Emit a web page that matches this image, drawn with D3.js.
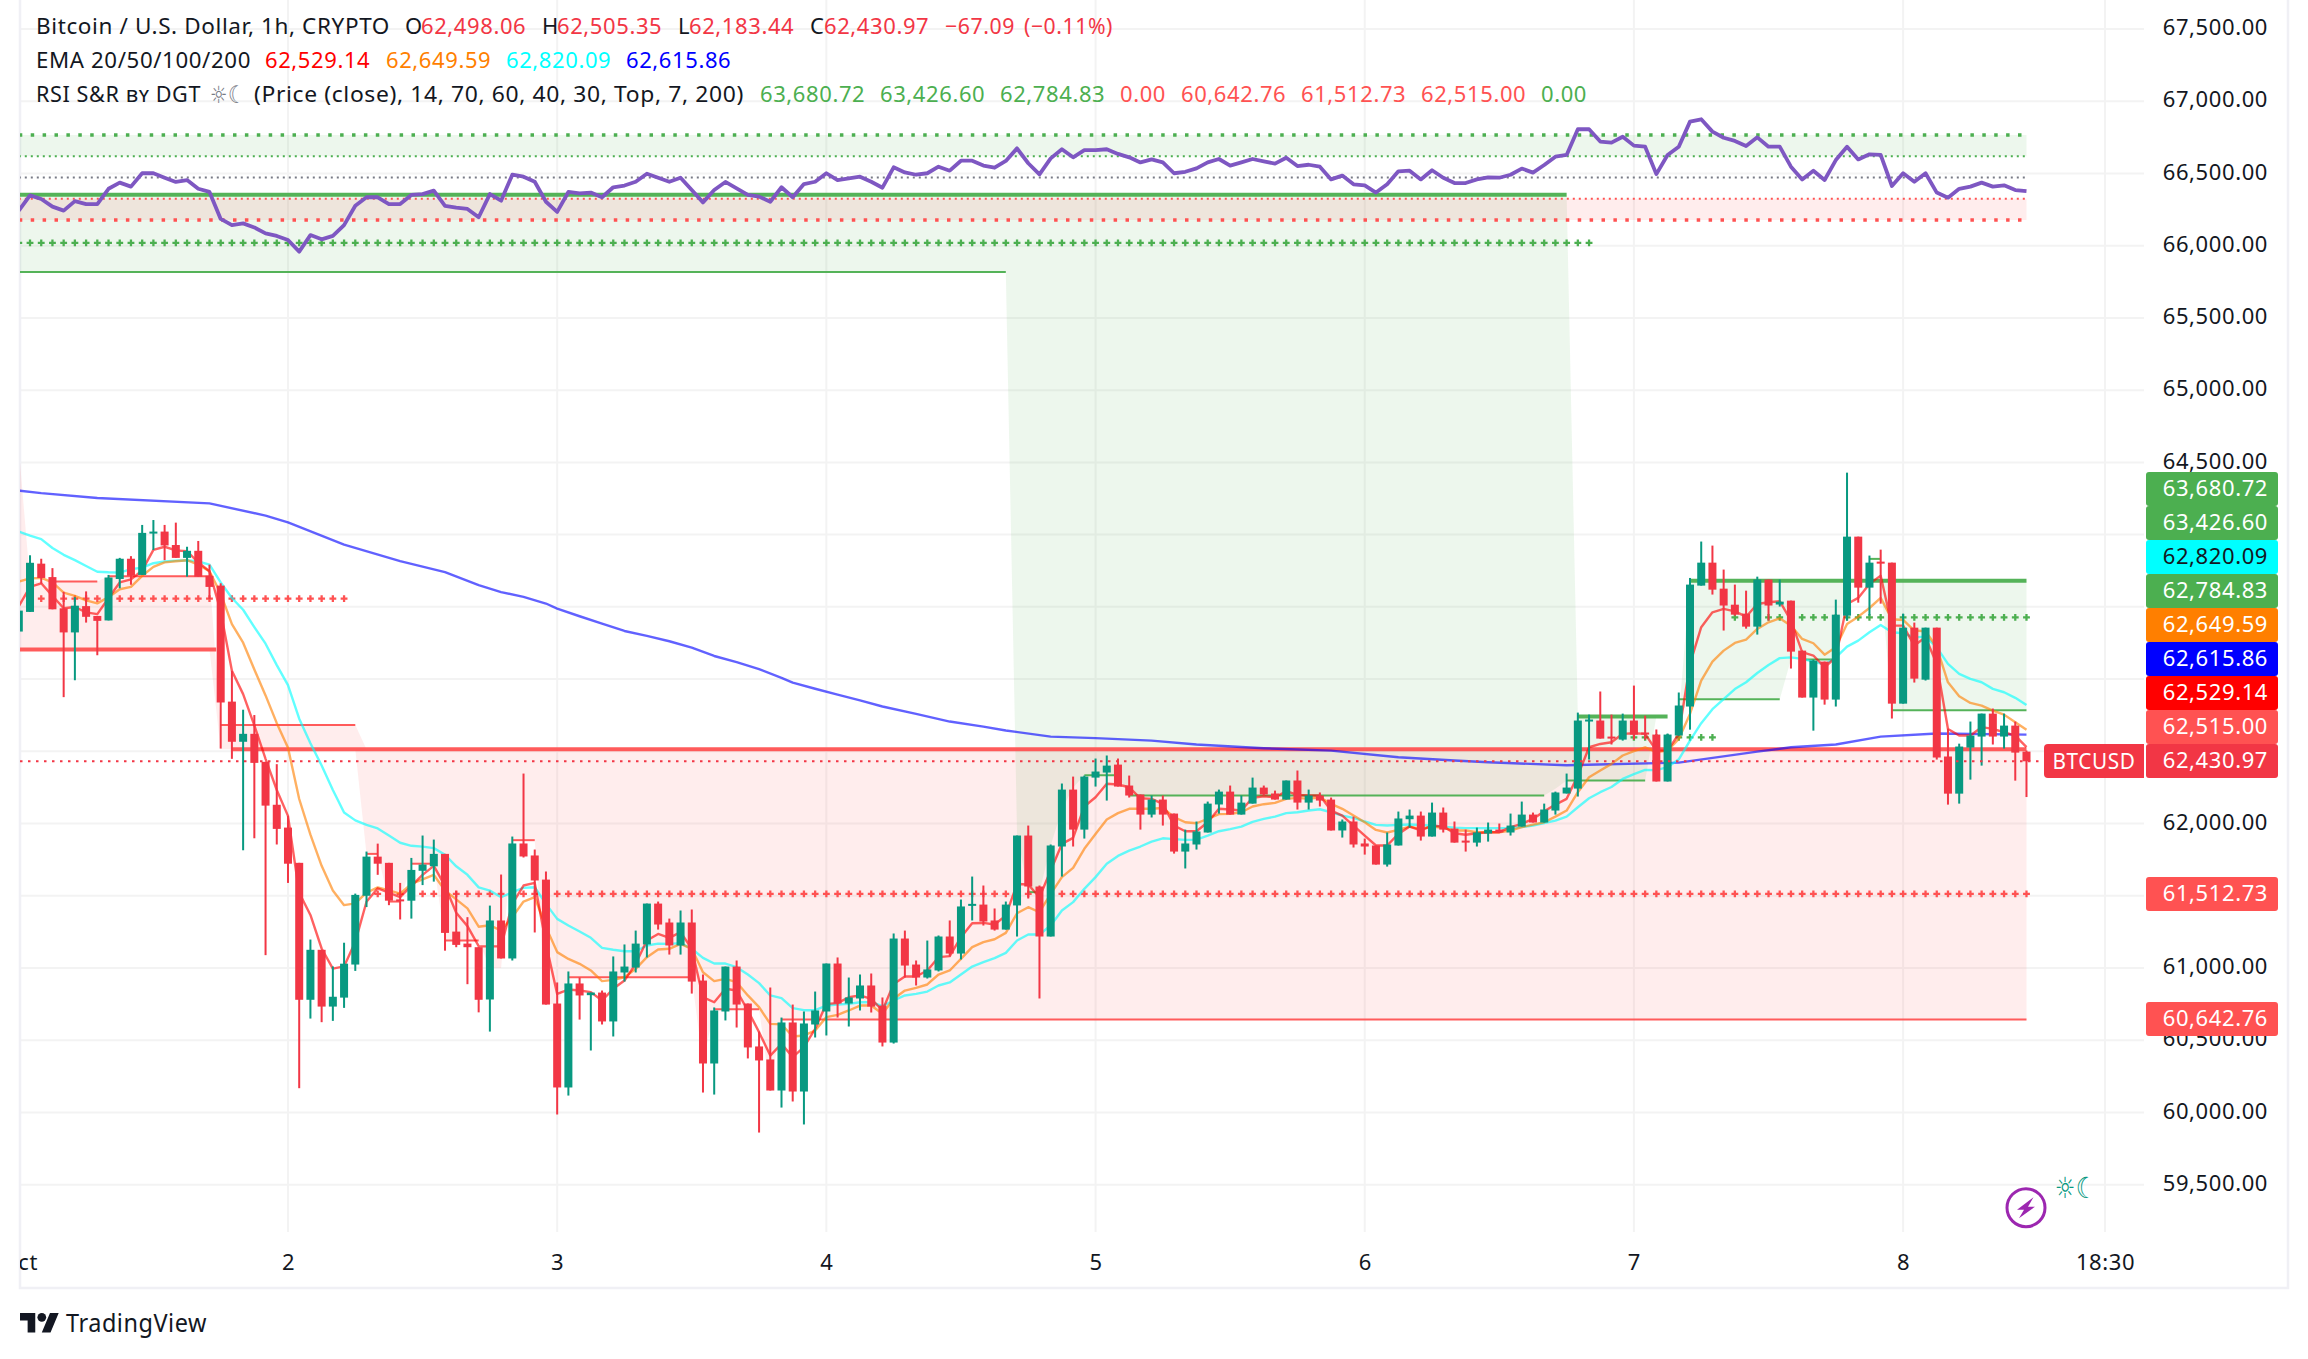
<!DOCTYPE html>
<html>
<head>
<meta charset="utf-8">
<title>BTCUSD 1h</title>
<script src="https://cdnjs.cloudflare.com/ajax/libs/d3/7.8.5/d3.min.js"></script>
<style>
  html, body { margin: 0; padding: 0; background: #fff; }
  svg { display: block; }
  text { font-family: "Noto Sans", sans-serif; fill: #131722; letter-spacing: 0.6px; }
</style>
</head>
<body>
<svg id="chart" width="2308" height="1359"></svg>
<script>
// hourly bars, hour 0 = 2 Oct 00:00
const firstHour = -24;

const opens = [
  63329,63465,63799,63706,63490,63323,63505,63437,63406,63693,63833,63721,64010,64021,63928,63839,63888,63715,63647,62844,62566,62621,62427,62130,
  61972,61728,60780,61126,60733,60795,61024,61500,61771,61728,61475,61466,61673,61704,61790,61252,61169,61144,60782,61329,
  61066,61862,61779,61612,60754,60173,60893,60812,60830,60630,60969,61003,61163,61446,61315,61156,61315,60913,60339,60699,61010,60754,60457,60367,60152,60623,60145,60609,
  60699,61031,60754,60789,60879,60740,60484,61204,61024,60934,60983,61218,61100,61437,61439,61329,61266,61433,61917,61564,61218,61841,62235,61958,
  62318,62353,62408,62263,62201,62062,62166,62069,61806,61855,61938,62132,62221,62062,62138,62249,62208,62166,62298,62145,62194,62166,61952,62014,
  61862,61848,61716,61848,62030,62055,61910,62076,61965,61882,61868,61931,61958,61938,61979,62062,62007,62090,62208,62242,62708,62713,62602,62581,
  62713,62630,62616,62291,62609,62810,63647,63806,63626,63515,63453,63363,63689,63516,63543,63197,62872,63121,62858,63439,63986,63633,63813,63806,
  62830,63356,62996,63356,62464,62207,62526,62602,62761,62602,62678,62498.06
];
const highs = [
  63474,63857,63833,63768,63604,63567,63607,63437,63721,63839,63851,64067,64101,64067,64083,63916,63956,63792,63663,63057,62788,62751,62427,62411,
  62053,61728,61197,61126,61011,61175,61515,61806,61861,61728,61589,61762,61917,61889,61790,61534,61352,61144,61432,61647,
  61910,62346,61820,61668,60900,60976,60934,60830,60844,61080,61163,61259,61446,61460,61342,61398,61405,60955,60727,61010,61052,60754,60560,60865,60657,60747,60699,60837,
  61031,61073,60934,60955,60962,60796,61239,61259,61052,61190,61225,61329,61474,61633,61571,61412,61460,61917,61986,61571,61855,62277,62325,62332,
  62450,62471,62450,62332,62201,62194,62194,62069,61958,62014,62152,62235,62263,62194,62318,62263,62228,62298,62367,62235,62215,62180,62028,62048,
  61896,61848,61938,62083,62097,62083,62145,62111,62014,61958,61972,62007,62000,62069,62152,62076,62138,62221,62346,62768,62754,62914,62754,62761,
  62955,62747,62651,62623,62907,63700,63952,63924,63758,63654,63612,63709,63689,63689,63543,63197,63135,63121,63550,64429,63986,63855,63896,63806,
  63453,63391,63356,63356,62657,62553,62706,62761,62796,62761,62706,62505.35
];
const lows = [
  63329,63465,63660,63483,62875,62992,63391,63165,63406,63629,63653,63721,63894,63823,63839,63709,63709,63554,62519,62448,61815,61898,61089,61855,
  61589,60168,60650,60625,60634,60724,60980,61422,61645,61435,61336,61342,61574,61598,61120,61144,60888,60693,60560,61066,
  61052,61765,61246,60747,59986,60117,60643,60429,60609,60526,60906,60969,61073,61266,61093,61093,60823,60138,60124,60637,60588,60374,59861,60152,60034,60076,59917,60519,
  60533,60657,60595,60706,60692,60457,60477,60934,60879,60927,60976,61079,61059,61329,61294,61259,61266,61218,61481,60789,61218,61633,61841,61896,
  62256,62159,62256,62180,61958,62042,61986,61792,61689,61820,61938,62069,62062,62062,62138,62194,62166,62166,62097,62097,62118,61952,61903,61834,
  61785,61716,61702,61848,61972,61882,61910,61938,61868,61806,61841,61875,61938,61917,61979,62007,62007,62062,62208,62187,62443,62588,62547,62574,
  62581,62581,62291,62291,62609,62650,63647,63585,63336,63439,63349,63308,63405,63502,63073,62872,62643,62823,62810,63405,63529,63439,63522,62727,
  62830,62976,62990,62443,62131,62138,62304,62401,62547,62519,62297,62183.44
];
const closes = [
  63474,63805,63700,63483,63323,63508,63431,63403,63703,63833,63715,64012,64021,63925,63839,63888,63709,63638,62838,62566,62621,62420,62124,61963,
  61722,60780,61126,60733,60801,61030,61506,61771,61722,61466,61469,61679,61716,61790,61243,61160,61144,60780,61329,61066,
  61862,61772,61606,60747,60173,60893,60810,60830,60630,60976,61010,61169,61446,61301,61156,61315,60906,60339,60706,61010,60747,60450,60360,60152,60623,60145,60616,60706,
  61031,60754,60796,60879,60733,60484,61204,61017,60934,60990,61218,61100,61426,61444,61322,61266,61439,61917,61564,61218,61848,62235,61958,62325,
  62360,62401,62256,62194,62062,62166,62062,61806,61862,61945,62138,62221,62062,62145,62249,62201,62166,62298,62145,62194,62159,61952,62014,61855,
  61841,61716,61855,62035,62055,61910,62076,61958,61868,61868,61938,61958,61938,61986,62062,62007,62097,62215,62249,62713,62720,62588,62588,62713,
  62616,62616,62291,62616,62817,63654,63806,63619,63509,63446,63363,63689,63509,63536,63190,62872,63128,62858,63446,63986,63633,63806,63799,62830,
  63356,63003,63356,62457,62207,62533,62609,62761,62602,62678,62491,62430.97
];

// EMA 20 / 50 / 100, one reading per bar
const ema20 = [
  63505,63638,63663,63576,63490,63499,63462,63450,63561,63669,63690,63752,63894,63916,63891,63885,63808,63746,63468,63057,62896,62680,62448,62232,
  62053,61521,61367,61135,60996,61011,61181,61459,61552,61521,61490,61568,61645,61707,61568,61382,61290,61151,61150,61150,
  61444,61571,61589,61167,60821,60851,60844,60833,60775,60856,60913,61029,61190,61236,61209,61248,61133,60798,60763,60856,60844,60706,60556,60394,60475,60383,60452,60579,60752,60757,60798,60810,60787,60706,60890,60941,60941,60983,61075,61082,61213,
  61310,61312,61301,61363,61582,61578,61490,61675,61859,61901,62118,62182,62275,62270,62251,62175,62171,62136,61986,61947,61947,62009,62102,62097,62090,62178,62189,62182,62224,62198,62194,62194,62090,62055,61986,61917,61848,61848,61928,61979,61952,61986,61979,61933,
  61922,61933,61940,61940,61975,61998,62032,62085,62131,62171,62332,62528,62551,62563,62621,62625,62621,62505,62505,
  62620,63105,63359,63462,63486,63469,63432,63520,63532,63539,63405,63186,63163,63082,63151,63520,63562,63659,63716,63370,63370,63232,63289,63105,62655,62609,62609,62667,62655,62632,62609,62529.14
];
const ema50 = [
  63675,63697,63700,63669,63598,63576,63545,63524,63567,63622,63638,63715,63777,63808,63816,63823,63792,63746,63592,63381,63252,63066,62887,62695,
  62525,62170,61923,61707,61537,61435,61447,61521,61558,61537,61515,61583,61614,61645,61537,61475,61413,61286,61296,61259,
  61352,61460,61490,61283,61110,61063,61029,60983,60909,60918,60936,60994,61075,61128,61133,61167,61133,60971,60909,60925,60902,60810,60729,60613,60611,60526,60533,60567,60660,60676,60706,60740,60740,60683,60787,60844,60863,60886,60955,60983,61063,
  61144,61179,61199,61243,61379,61421,61386,61513,61629,61693,61825,61928,62028,62072,62102,62102,62102,62108,62044,62009,62002,62032,62065,62067,62078,62118,62134,62143,62171,62178,62171,62182,62136,62102,62055,62009,61956,61938,61956,61979,61963,61979,61970,61952,
  61952,61940,61940,61940,61952,61975,61993,62009,62048,62090,62217,62321,62367,62413,62471,62501,62528,62494,62505,
  62586,62759,62990,63121,63197,63250,63273,63347,63393,63421,63370,63278,63248,63169,63220,63382,63432,63492,63562,63414,63409,63336,63331,63220,62978,62881,62835,62816,62782,62754,62701,62649.59
];
const ema100 = [
  64021,63993,63969,63907,63860,63823,63783,63743,63739,63737,63761,63771,63802,63814,63820,63823,63814,63792,63669,63561,63480,63360,63245,63097,
  62958,62726,62556,62402,62232,62077,62022,61991,61966,61917,61867,61846,61840,61830,61784,61704,61645,61558,61536,61490,
  61525,61555,61559,61444,61340,61294,61253,61209,61139,61126,61116,61116,61156,61169,61167,61172,61133,61070,61031,61031,61006,60955,60895,60810,60791,60722,60708,60708,60740,60747,60752,60763,60763,60736,60775,60810,60821,60837,60879,60900,60955,
  61010,61040,61068,61105,61190,61232,61232,61294,61398,61456,61548,61629,61721,61776,61813,61841,61875,61898,61892,61887,61889,61917,61947,61961,61979,62012,62032,62048,62072,62078,62090,62099,62078,62055,62039,62014,61991,61986,61991,61993,61990,61985,61978,61972,
  61968,61968,61968,61968,61968,61975,61986,62004,62020,62048,62113,62175,62217,62253,62309,62342,62371,62370,62390,
  62445,62574,62695,62792,62862,62931,62978,63042,63097,63145,63150,63140,63121,63100,63151,63225,63266,63324,63375,63324,63317,63289,63294,63220,63105,63036,63001,62978,62932,62909,62870,62820.09
];
// EMA 200 is smooth, read at the bends only
const ema200Hours = [-24,-22,-17,-7,-2,0,5,10,14,17,19,21,23,24,26,28,30,32,34,36,38,40,42,44,45,47,49,51,53,56,59,62,64,68,72,77,81,87,93,99,104,107,114,124,131,134,138,142,147,155];
const ema200 = [64305,64287,64253,64216,64132,64085,63931,63817,63740,63650,63602,63569,63523,63488,63435,63384,63333,63299,63262,63218,63160,63118,63069,63009,62975,62933,62893,62852,62810,62759,62706,62671,62644,62602,62591,62574,62547,62521,62505,62459,62436,62424,62404,62422,62498,62528,62547,62602,62623,62615.86];

// RSI overlay
const rsi = [
  34.4,41.6,39.9,36.3,34.4,38.9,37.5,37.5,44.7,47.6,45.7,52,52,49.9,47.9,48.8,44.7,43.2,30.5,27.6,28.4,26.5,23.7,22.5,
  20.6,15.1,22.9,20.9,22.5,27.6,36.7,40.7,40.7,37.5,37.5,41.8,42.2,43.8,36.6,35.8,35.2,31.3,42.2,39.1,51.3,50.4,48,38.6,33.8,43.2,42.5,42.9,40.7,45.4,46.2,48,51.8,49.9,48,49.9,44.1,38.3,44.1,47.9,44.9,41.8,41,38.6,45.4,40.7,
  46.9,48,52,48.8,49.6,50.4,48,45.2,54.8,52.4,51.3,52,55.1,53.2,57.9,57.9,55.6,54.6,57.8,63.7,56.7,51.5,59,63.3,59.5,62.9,62.9,63.3,61.1,59.5,57.1,58.5,57.1,52,52.7,54.3,57.1,58.7,55.6,57.1,58.7,57.6,56.5,59.3,55.4,56,55.1,49.1,50.9,46.8,46.3,42.9,46.8,52.9,53.2,49.1,53.4,49.9,47.4,47.4,49.1,50.1,49.9,51.3,54.2,52.3,55.9,59.8,60.6,72.7,72.7,66.9,
  66.4,69.2,65,64.5,51.6,60.6,64.5,76.3,77.4,71.6,68.7,67.2,64.8,68.9,64.5,64.5,55.1,49.1,53.2,48.8,58.2,64.5,58.5,60.9,60.6,46,52,48,52,42.9,40.5,44.7,45.7,47.6,45.7,46.3,44.1,43.6
];
const rsiBandUpper = [70, 60];
const rsiBandLower = [40, 30];

// support / resistance levels as [fromHour, toHour, price]
const greenThickLevels = [[-24,114,66353],[115,123,62741],[125,155,63680.72]];
const greenThinLevels = [[-24,64,65818],[66,67,61525],[71,74,62334],[75,112,62194],[114,121,62298],[124,133,62860],[135,138,63135],[141,142,63832],[143,155,62784.83]];
const redThickLevels = [[-24,-6.4,63205],[-5,155,62515]];
const redThinLevels = [[-21,-17,63675],[-16,-7,63712],[-6,6,62683],[7,8,61790],[9,10,61460],[11,13,61722],[14,17,61190],[20,22,61885],[25,36,60936],[38,42,60715],[44,155,60642.76]];
const greenCrossLevels = [[-24,116,66020],[120,127,62597],[129,155,63426.6]];
const redCrossLevels = [[-22,5,63557],[8,155,61512.73]];

// shaded zones, upper and lower edge per stretch of bars
const greenZoneTop = [[-24,114,66353],[115,124,62741],[125,155,63680.72]];
const greenZoneBottom = [[-24,64,65818],[65,65,61930],[66,67,61525],[68,68,61848],[69,69,62097],[70,70,62250],[71,74,62334],[75,112,62194],[113,113,62240],[114,121,62298],[122,124,62741],[125,133,62860],[134,138,63135],[139,142,63680.72],[143,155,62784.83]];
const redZoneTop = [[-24,-24,64600],[-23,-17,63675],[-16,-7,63712],[-6,6,62683],[7,155,62515]];
const redZoneBottom = [[-24,-7,63205],[-6,6,62515],[7,8,61790],[9,10,61460],[11,13,61722],[14,17,61190],[18,19,61000],[20,22,61885],[23,24,60750],[25,36,60936],[37,37,60339],[38,42,60715],[43,43,60152],[44,155,60642.76]];

const priceTicks = d3.range(59500, 67501, 500);
// labels of these ticks sit fully under the price tags in the reference
const coveredTicks = [61500, 62500, 63000, 63500, 64000];
const timeTicks = [-24,0,24,48,72,96,120,144,162];
const timeLabels = ["Oct","2","3","4","5","6","7","8","18:30"];
const lastPrice = 62430.97;

const tagValues = ["63,680.72","63,426.60","62,820.09","62,784.83","62,649.59","62,615.86","62,529.14","62,515.00","62,430.97","61,512.73","60,642.76"];
const tagFills = ["#4caf50","#4caf50","#00ffff","#4caf50","#ff7f00","#0000ff","#ff0000","#ff5252","#f23645","#ff5252","#ff5252"];
const tagTops = [472,506,540,574,608,642,676,710,744,877,1002];

const upColor = "#089981", downColor = "#f23645";
const svg = d3.select("#chart");

const hours = d3.range(firstHour, 156);
const x = d3.scaleLinear().domain([-24, 162]).range([18.8, 2105]);
const y = d3.scaleLinear().domain([59500, 67500]).range([1184.7, 29]);
const rsiY = d3.scaleLinear().domain([30, 70]).range([220, 135]);

const plotRight = 2144, plotBottom = 1232, leftEdge = 20, rightEdge = 2288, axisBottom = 1288;

svg.append("defs").append("clipPath").attr("id", "plot-clip")
  .append("rect").attr("x", leftEdge).attr("y", 0).attr("width", plotRight - leftEdge).attr("height", plotBottom);
svg.select("defs").append("clipPath").attr("id", "time-clip")
  .append("rect").attr("x", leftEdge).attr("y", plotBottom).attr("width", rightEdge - leftEdge).attr("height", axisBottom - plotBottom);

// grid
const grid = svg.append("g").attr("stroke", "#f3f3f3").attr("stroke-width", 2);
grid.selectAll(".h").data(priceTicks).join("line")
  .attr("x1", leftEdge).attr("x2", plotRight).attr("y1", d => y(d)).attr("y2", d => y(d));
grid.selectAll(".v").data(timeTicks.slice(1)).join("line")
  .attr("x1", d => x(d)).attr("x2", d => x(d)).attr("y1", 0).attr("y2", plotBottom);

// frame
const frame = svg.append("g").attr("stroke", "#f0f0f5").attr("stroke-width", 2.5).attr("fill", "none");
frame.append("path").attr("d", `M${leftEdge},0V${axisBottom}H${rightEdge}V0`);

const plot = svg.append("g").attr("clip-path", "url(#plot-clip)");

// expand [from,to,value] stretches to one value per bar
function perBar(stretches) {
  const out = [];
  stretches.forEach(([a, b, v]) => d3.range(a, b + 1).forEach(h => out.push({ h, v })));
  return out;
}

function drawZone(topStretches, bottomStretches, fill) {
  const top = perBar(topStretches), bottom = new Map(perBar(bottomStretches).map(d => [d.h, d.v]));
  const area = d3.area().x(d => x(d.h)).y0(d => y(bottom.get(d.h))).y1(d => y(d.v));
  plot.append("path").attr("d", area(top)).attr("fill", fill);
}
drawZone(redZoneTop, redZoneBottom, "rgba(255,82,82,0.1)");
drawZone(greenZoneTop, greenZoneBottom, "rgba(76,175,80,0.1)");

// RSI bands
[[rsiBandUpper, "rgba(76,175,80,0.1)"], [rsiBandLower, "rgba(255,82,82,0.1)"]].forEach(([band, fill]) => {
  plot.append("rect").attr("x", x(firstHour)).attr("width", x(155) - x(firstHour))
    .attr("y", rsiY(band[0])).attr("height", rsiY(band[1]) - rsiY(band[0])).attr("fill", fill);
});
const rsiLevels = [
  { v: 70, color: "#4caf50", width: 3.5, dash: "3.5 8.4" },
  { v: 60, color: "#4caf50", width: 1.8, dash: "2 4" },
  { v: 50, color: "#787b86", width: 1.8, dash: "2 4" },
  { v: 40, color: "#ff5252", width: 1.8, dash: "2 4" },
  { v: 30, color: "#ff5252", width: 3.5, dash: "3.5 8.4" }
];
plot.selectAll(".rsi-level").data(rsiLevels).join("line")
  .attr("x1", x(firstHour)).attr("x2", x(155))
  .attr("y1", d => rsiY(d.v)).attr("y2", d => rsiY(d.v))
  .attr("stroke", d => d.color).attr("stroke-width", d => d.width).attr("stroke-dasharray", d => d.dash);

function drawLevels(levels, color, width) {
  plot.append("g").selectAll("line").data(levels).join("line")
    .attr("x1", d => x(d[0])).attr("x2", d => x(d[1]))
    .attr("y1", d => y(d[2])).attr("y2", d => y(d[2]))
    .attr("stroke", color).attr("stroke-width", width).attr("stroke-opacity", 0.95);
}
drawLevels(greenThinLevels, "#4caf50", 2);
drawLevels(redThinLevels, "#ff5252", 2);
drawLevels(greenThickLevels, "#4caf50", 4);
drawLevels(redThickLevels, "#ff5252", 4);

// per bar crosses
const crossPath = d3.symbol(d3.symbolCross, 26)();
function drawCrosses(levels, color) {
  const pts = levels.flatMap(([a, b, v]) => d3.range(a, b + 1).map(h => ({ h, v })));
  plot.append("g").selectAll("path").data(pts).join("path")
    .attr("d", crossPath).attr("fill", color)
    .attr("transform", d => `translate(${x(d.h)},${y(d.v)})`);
}
drawCrosses(greenCrossLevels, "#4caf50");
drawCrosses(redCrossLevels, "#ff5252");

// EMAs
const priceLine = d3.line().x(d => x(d[0])).y(d => y(d[1]));
function drawEma(xs, values, color) {
  plot.append("path").attr("d", priceLine(xs.map((h, i) => [h, values[i]])))
    .attr("fill", "none").attr("stroke", color).attr("stroke-width", 2.4).attr("stroke-opacity", 0.62)
    .attr("stroke-linejoin", "round");
}
drawEma(ema200Hours, ema200, "#0000ff");
drawEma(hours, ema100, "#00ffff");
drawEma(hours, ema50, "#ff7f00");
drawEma(hours, ema20, "#ff0000");

// candles
const bars = plot.append("g").selectAll("g").data(hours).join("g")
  .attr("fill", (h, i) => closes[i] >= opens[i] ? upColor : downColor);
bars.append("rect")
  .attr("x", h => x(h) - 1).attr("width", 2)
  .attr("y", (h, i) => y(highs[i])).attr("height", (h, i) => y(lows[i]) - y(highs[i]));
bars.append("rect")
  .attr("x", h => x(h) - 4).attr("width", 8)
  .attr("y", (h, i) => y(Math.max(opens[i], closes[i])))
  .attr("height", (h, i) => Math.max(2, Math.abs(y(opens[i]) - y(closes[i]))));

// last price line
plot.append("line").attr("x1", leftEdge).attr("x2", plotRight)
  .attr("y1", y(lastPrice)).attr("y2", y(lastPrice))
  .attr("stroke", "#f23645").attr("stroke-width", 2).attr("stroke-dasharray", "2.5 5.5");

// RSI line on top
const rsiLine = d3.line().x((d, i) => x(hours[i])).y(d => rsiY(d));
plot.append("path").attr("d", rsiLine(rsi)).attr("fill", "none")
  .attr("stroke", "#7e57c2").attr("stroke-width", 3.8).attr("stroke-linejoin", "round");

// axes
const fontSize = 22;
const yAxis = svg.append("g").attr("transform", `translate(${plotRight},0)`)
  .call(d3.axisRight(y).tickValues(priceTicks.filter(d => !coveredTicks.includes(d))).tickFormat(d3.format(",.2f")).tickSize(0));
yAxis.select(".domain").remove();
yAxis.selectAll("text").attr("x", 124).attr("dy", "0.26em").attr("text-anchor", "end").style("font-size", fontSize + "px");

const xAxis = svg.append("g").attr("clip-path", "url(#time-clip)").append("g")
  .attr("transform", `translate(0,${plotBottom})`)
  .call(d3.axisBottom(x).tickValues(timeTicks).tickFormat((d, i) => timeLabels[i]).tickSize(0).tickPadding(22));
xAxis.select(".domain").remove();
xAxis.selectAll("text").style("font-size", fontSize + "px");

// price tags
const tags = svg.append("g").selectAll("g").data(tagValues).join("g")
  .attr("transform", (d, i) => `translate(2146,${tagTops[i]})`);
tags.append("rect").attr("width", 132).attr("height", 34).attr("rx", 3).attr("fill", (d, i) => tagFills[i]);
tags.append("text").text(d => d).attr("x", 122).attr("y", 24).attr("text-anchor", "end")
  .style("font-size", fontSize + "px").style("fill", (d, i) => tagFills[i] === "#00ffff" ? "#131722" : "#fff");

const symbolTag = svg.append("g").attr("transform", "translate(2044,744)");
symbolTag.append("path").attr("d", "M100,0V34H4a4,4 0 0 1 -4,-4V4a4,4 0 0 1 4,-4Z").attr("fill", "#f23645");
symbolTag.append("text").text("BTCUSD").attr("x", 50).attr("y", 25).attr("text-anchor", "middle")
  .attr("textLength", 83).attr("lengthAdjust", "spacingAndGlyphs")
  .style("font-size", "21px").style("fill", "#fff");

// legend, [text, x, colour, width]
const ink = "#131722", red = "#f23645", green = "#4caf50", softRed = "#ff5252";
const legendRows = [
  { y: 34, items: [
    ["Bitcoin / U.S. Dollar, 1h, CRYPTO", 36, ink, 354],
    ["O", 405, ink], ["62,498.06", 421, red], ["H", 542, ink], ["62,505.35", 557, red],
    ["L", 678, ink], ["62,183.44", 689, red], ["C", 810, ink], ["62,430.97", 824, red],
    ["\u221267.09", 945, red, 70], ["(\u22120.11%)", 1024, red, 89] ] },
  { y: 68, items: [
    ["EMA 20/50/100/200", 36, ink, 215],
    ["62,529.14", 265, "#ff0000"], ["62,649.59", 386, "#ff7f00"], ["62,820.09", 506, "#00ffff"], ["62,615.86", 626, "#0000ff"] ] },
  { y: 102, items: [
    ["RSI S&R \u0299\u028F DGT", 36, ink, 165],
    ["(Price (close), 14, 70, 60, 40, 30, Top, 7, 200)", 254, ink, 490],
    ["63,680.72", 760, green], ["63,426.60", 880, green], ["62,784.83", 1000, green], ["0.00", 1120, softRed],
    ["60,642.76", 1181, softRed], ["61,512.73", 1301, softRed], ["62,515.00", 1421, softRed], ["0.00", 1541, green] ] }
];
legendRows.forEach(row => {
  row.items.forEach(([t, lx, c, w]) => {
    const label = svg.append("text").text(t).attr("x", lx).attr("y", row.y)
      .style("font-size", fontSize + "px").style("fill", c);
    if (w) label.attr("textLength", w).attr("lengthAdjust", "spacingAndGlyphs");
  });
});

// sun and moon glyphs, only DejaVu draws them at a decent size
function sunMoon(gx, gy, width, size, color) {
  svg.append("text").text("\u263C\u263E").attr("x", gx).attr("y", gy)
    .attr("textLength", width).attr("lengthAdjust", "spacingAndGlyphs")
    .style("font-family", "'DejaVu Sans'").style("font-size", size + "px").style("fill", color);
}
sunMoon(210, 103, 36, 24, "#787b86");
sunMoon(2055, 1198, 42, 29, "#089981");

// logo
const logo = svg.append("g").attr("transform", "translate(20,1308.6) scale(1.09)").attr("fill", "#131722");
logo.append("path").attr("d", "M14 22H7V11H0V4h14v18zM28 22h-8l7.5-18h8L28 22z");
logo.append("circle").attr("cx", 20).attr("cy", 8).attr("r", 4);
svg.append("text").text("TradingView").attr("x", 66).attr("y", 1332)
  .attr("textLength", 141).attr("lengthAdjust", "spacingAndGlyphs")
  .style("font-size", "26px");

// corner icon
const bolt = svg.append("g").attr("transform", "translate(2026,1207.7)");
bolt.append("circle").attr("r", 19).attr("fill", "#fff").attr("stroke", "#9c27b0").attr("stroke-width", 3);
bolt.append("path").attr("d", "M7.5,-10.5L-9,2H-2L-7,10.5L9,-1H2Z").attr("fill", "#9c27b0");
</script>
</body>
</html>
